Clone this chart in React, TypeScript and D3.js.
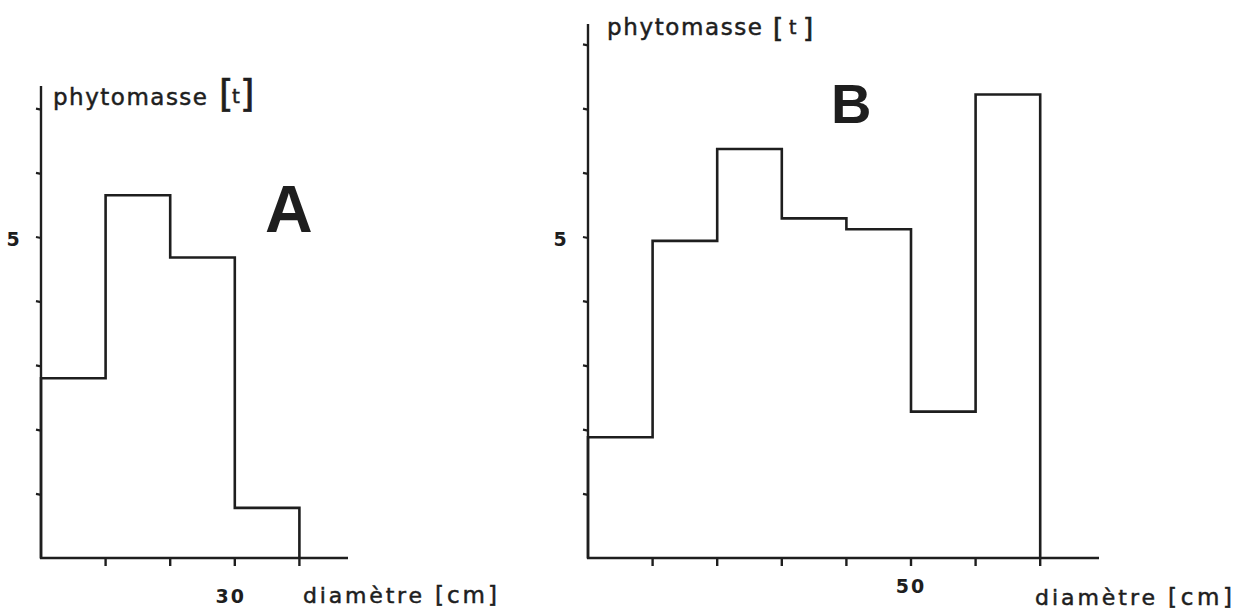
import React from "react";
import * as d3 from "d3";

// Chart A: diameter classes (cm) and phytomass (t)
const binsA = [0, 10, 20, 30, 40];
const valuesA = [2.8, 5.65, 4.68, 0.78];
const xTicksA = [10, 20, 30, 40];
const yTicksA = [1, 2, 3, 4, 5, 6, 7];

// Chart B
const binsB = [0, 10, 20, 30, 40, 50, 60, 70];
const valuesB = [1.88, 4.94, 6.37, 5.29, 5.12, 2.28, 7.22];
const xTicksB = [10, 20, 30, 40, 50, 60, 70];
const yTicksB = [1, 2, 3, 4, 5, 6, 7, 8];

const labeledY = [5];
const labeledXA = [30];
const labeledXB = [50];

const INK = "#1e1e1e";
const FONT = "'DejaVu Sans', sans-serif";

type PanelProps = {
  x0: number;
  xMaxPx: number;
  yTopPx: number;
  bins: number[];
  values: number[];
  xTicks: number[];
  yTicks: number[];
};

const y = d3.scaleLinear().domain([0, 5]).range([558, 237]);

function Panel({ x0, xMaxPx, yTopPx, bins, values, xTicks, yTicks }: PanelProps) {
  const x = d3.scaleLinear().domain([0, 10]).range([x0, x0 + 64.6]);
  const pts: [number, number][] = [];
  pts.push([x(bins[0]), y(0)]);
  values.forEach((v, i) => {
    pts.push([x(bins[i]), y(v)]);
    pts.push([x(bins[i + 1]), y(v)]);
  });
  pts.push([x(bins[bins.length - 1]), y(0)]);
  const line = d3.line();
  return (
    <g>
      <path d={line(pts) || ""} fill="none" stroke={INK} strokeWidth={2.6} strokeLinejoin="miter" />
      <line x1={x0} x2={x0} y1={y(0) + 1} y2={yTopPx} stroke={INK} strokeWidth={2.4} />
      {yTicks.map((t) => (
        <line key={"yt" + t} x1={x0 - 5} x2={x0} y1={y(t)} y2={y(t) + 1} stroke={INK} strokeWidth={2.2} />
      ))}
      <line x1={x0 - 1} x2={xMaxPx} y1={y(0)} y2={y(0)} stroke={INK} strokeWidth={2.6} />
      {xTicks.map((t) => (
        <line key={"xt" + t} x1={x(t)} x2={x(t)} y1={y(0)} y2={y(0) + 8} stroke={INK} strokeWidth={2.4} />
      ))}
      {labeledY.map((t) => (
        <text key={"yl" + t} x={x0 - 28} y={y(t) + 9} textAnchor="middle" fontFamily={FONT} fontWeight="bold" fontSize={19} fill={INK}>
          {t}
        </text>
      ))}
    </g>
  );
}

const txt = { fontFamily: FONT, fill: INK, stroke: INK, strokeWidth: 0.5 } as const;

export default function App() {
  const xA = d3.scaleLinear().domain([0, 10]).range([41, 41 + 64.6]);
  const xB = d3.scaleLinear().domain([0, 10]).range([588, 588 + 64.6]);
  return (
    <svg width={1242} height={610} style={{ position: "absolute", left: 0, top: 0, background: "#fff" }}>
      <rect width={1242} height={610} fill="#fff" />
      <Panel x0={41} xMaxPx={348} yTopPx={86} bins={binsA} values={valuesA} xTicks={xTicksA} yTicks={yTicksA} />
      <Panel x0={588} xMaxPx={1099} yTopPx={24} bins={binsB} values={valuesB} xTicks={xTicksB} yTicks={yTicksB} />

      {/* Panel A titles */}
      <text {...txt} x={53} y={105} fontSize={23} textLength={154} lengthAdjust="spacing">phytomasse</text>
      <text {...txt} x={219} y={107} fontSize={37} strokeWidth={0.7}>[</text>
      <text {...txt} x={232} y={103} fontSize={20}>t</text>
      <text {...txt} x={240} y={107} fontSize={37} strokeWidth={0.7}>]</text>
      <text x={265} y={232} fontFamily="'Liberation Sans', Arial, sans-serif" fontWeight="bold" fontSize={66} fill={INK}>A</text>

      {labeledXA.map((t) => (
        <text key={"xa" + t} x={xA(t) - 4} y={603} textAnchor="middle" fontFamily={FONT} fontWeight="bold" fontSize={19} fill={INK} letterSpacing={2}>
          {t}
        </text>
      ))}
      <text {...txt} x={303} y={603} fontSize={22} textLength={119} lengthAdjust="spacing">diamètre</text>
      <text {...txt} x={435} y={603} fontSize={23} textLength={62} lengthAdjust="spacing">[cm]</text>

      {/* Panel B titles */}
      <text {...txt} x={607} y={35} fontSize={23} textLength={155} lengthAdjust="spacing">phytomasse</text>
      <text {...txt} x={773} y={37} fontSize={26} strokeWidth={0.7}>[</text>
      <text {...txt} x={789} y={34} fontSize={19}>t</text>
      <text {...txt} x={803} y={37} fontSize={26} strokeWidth={0.7}>]</text>
      <text x={831} y={123} fontFamily="'Liberation Sans', Arial, sans-serif" fontWeight="bold" fontSize={56} fill={INK}>B</text>

      {labeledXB.map((t) => (
        <text key={"xb" + t} x={xB(t)} y={593} textAnchor="middle" fontFamily={FONT} fontWeight="bold" fontSize={19} fill={INK} letterSpacing={2}>
          {t}
        </text>
      ))}
      <text {...txt} x={1035} y={605} fontSize={22} textLength={120} lengthAdjust="spacing">diamètre</text>
      <text {...txt} x={1168} y={605} fontSize={23} textLength={64} lengthAdjust="spacing">[cm]</text>
    </svg>
  );
}
